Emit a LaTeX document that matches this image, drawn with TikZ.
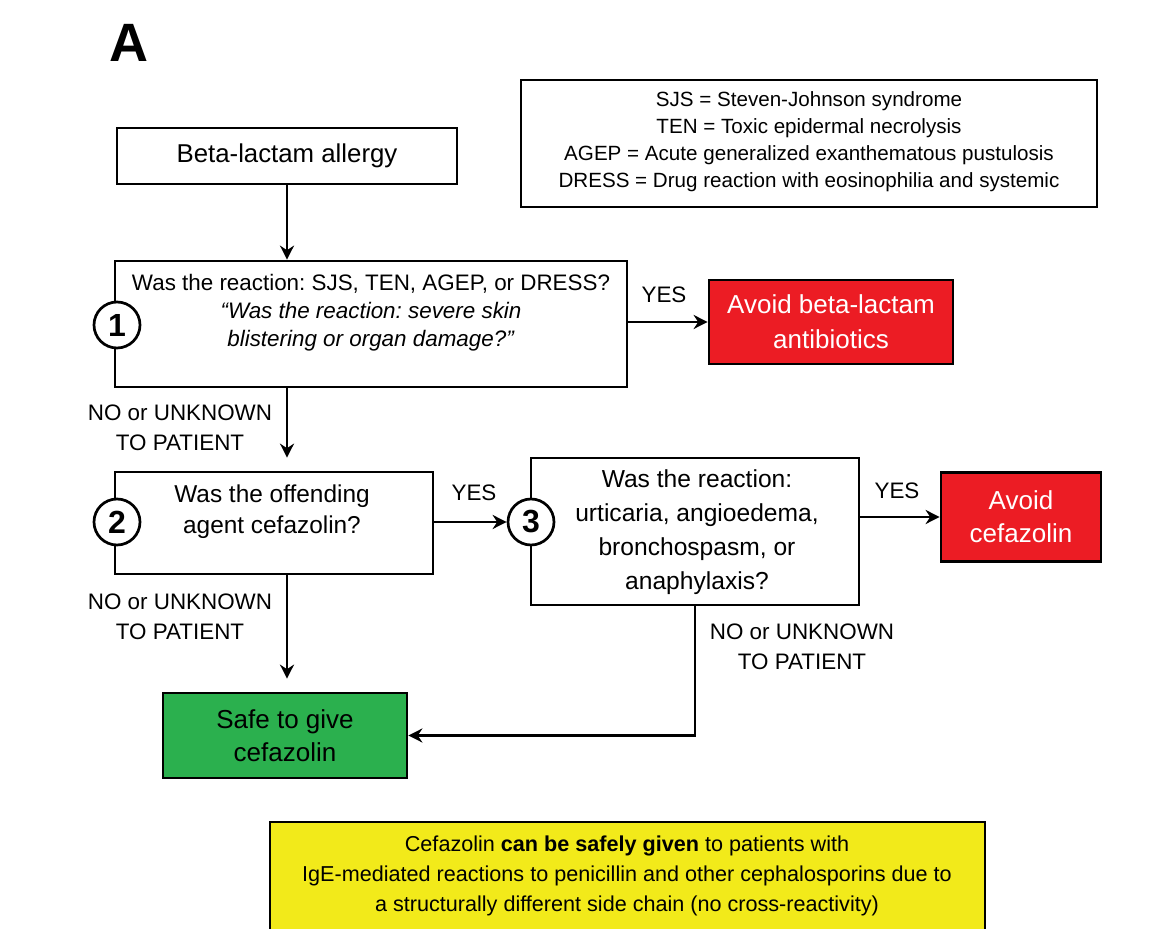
\documentclass[tikz,border=0pt]{standalone}
\usepackage{fontspec}
\setmainfont{Liberation Sans}
\usetikzlibrary{calc,positioning,arrows.meta}
\frenchspacing

\definecolor{avoidred}{HTML}{EC1C24}
\definecolor{safegreen}{HTML}{2BB04E}
\definecolor{noteyellow}{HTML}{F2EA1A}

\begin{document}
\begin{tikzpicture}[x=0.5pt, y=-0.5pt
        , line width=1.35pt
        , qbox/.style={ draw, inner sep=0pt }
        , txt/.style={ align=center, inner sep=0pt, font=\fontsize{12.3}{17}\selectfont }
        , avoid/.style={ qbox, txt, fill=avoidred, text=white, font=\fontsize{13}{17.5}\selectfont }
        , lbl/.style={ align=center, inner sep=0pt, font=\fontsize{11.2}{15}\selectfont }
        , num/.style={ circle, draw, fill=white, minimum size=23pt, inner sep=0pt,
                       font=\fontsize{16}{16}\selectfont\bfseries }
        , arr/.style={ -{Stealth[length=7pt,width=7pt]} }
        ]

        \useasboundingbox (0,0) rectangle (1167,929);
        \clip (0,0) rectangle (1167,929);

        \node[font=\fontsize{27}{27}\selectfont\bfseries] (title) at (129,43) {A};

        % abbreviations
        \node[qbox, line width=1pt, minimum width=288pt, minimum height=63.5pt] (legend) at (809,143.5) {};
        \node[txt, font=\fontsize{10.3}{13.5}\selectfont] (legendtext) at (809,142)
            {SJS = Steven-Johnson syndrome\\
             TEN = Toxic epidermal necrolysis\\
             AGEP = Acute generalized exanthematous pustulosis\\
             DRESS = Drug reaction with eosinophilia and systemic};

        \node[qbox, txt, font=\fontsize{12.9}{17}\selectfont, minimum width=170pt, minimum height=28pt] (allergy) at (287,156) {Beta-lactam allergy};

        \node[qbox, minimum width=256pt, minimum height=63pt] (q1) at (371,324) {};
        \node[txt, font=\fontsize{11.2}{14}\selectfont] (q1text) at (371,313)
            {Was the reaction: SJS, TEN, AGEP, or DRESS?\\
             \textit{``Was the reaction: severe skin}\\
             \textit{blistering or organ damage?''}};

        \node[avoid, minimum width=122pt, minimum height=42pt] (red1) at (831,322) {Avoid beta-lactam\\antibiotics};

        \node[qbox, minimum width=159pt, minimum height=51pt] (q2) at (274,523) {};
        \node[txt, font=\fontsize{12.2}{15.5}\selectfont] (q2text) at (272,512) {Was the offending\\agent cefazolin?};

        \node[qbox, minimum width=164pt, minimum height=73.5pt] (q3) at (695,531.5) {};
        \node[txt] (q3text) at (697,532)
            {Was the reaction:\\urticaria, angioedema,\\bronchospasm, or\\anaphylaxis?};

        \node[avoid, minimum width=80pt, minimum height=44.5pt, font=\fontsize{13}{16.5}\selectfont] (red2) at (1021,517) {Avoid\\cefazolin};

        \node[qbox, txt, fill=safegreen, minimum width=122pt, minimum height=42.5pt,
              font=\fontsize{13}{16.5}\selectfont] (green) at (285,735.5) {Safe to give\\cefazolin};

        \foreach \n/\x/\y in {1/117/325, 2/117/522, 3/531/522}
            \node[num] (n\n) at (\x,\y) {\n};

        % answers
        \node[lbl] (yes1) at (664,295) {YES};
        \node[lbl] (yes2) at (474,493) {YES};
        \node[lbl] (yes3) at (897,491) {YES};
        \node[lbl] (no1) at (180,428) {NO or UNKNOWN\\TO PATIENT};
        \node[lbl] (no2) at (180,617) {NO or UNKNOWN\\TO PATIENT};
        \node[lbl] (no3) at (802,647) {NO or UNKNOWN\\TO PATIENT};

        \draw[arr] (allergy.south) -- (allergy.south |- q1.north);
        \draw[arr] (red1.west -| q1.east) -- (red1.west);
        \draw[arr, shorten >=6.5pt] (q1.south -| allergy.south) -- (q2.north -| allergy.south);
        \draw[arr] (n3.west -| q2.east) -- (n3.west);
        \draw[arr] (red2.west -| q3.east) -- (red2.west);
        \draw[arr, shorten >=6.5pt] (q2.south -| allergy.south) -- (green.north -| allergy.south);
        \draw[arr] (q3.south) -- (q3.south |- green.east) -- (green.east);

        % note at the bottom, cut by the page edge
        \node[qbox, fill=noteyellow, minimum width=357.5pt, minimum height=56pt] (note) at (627.5,878) {};
        \node[txt, font=\fontsize{10.8}{15}\selectfont] (notetext) at (627,876)
            {Cefazolin \textbf{can be safely given} to patients with\\
             IgE-mediated reactions to penicillin and other cephalosporins due to\\
             a structurally different side chain (no cross-reactivity)};

    \end{tikzpicture}
\end{document}
